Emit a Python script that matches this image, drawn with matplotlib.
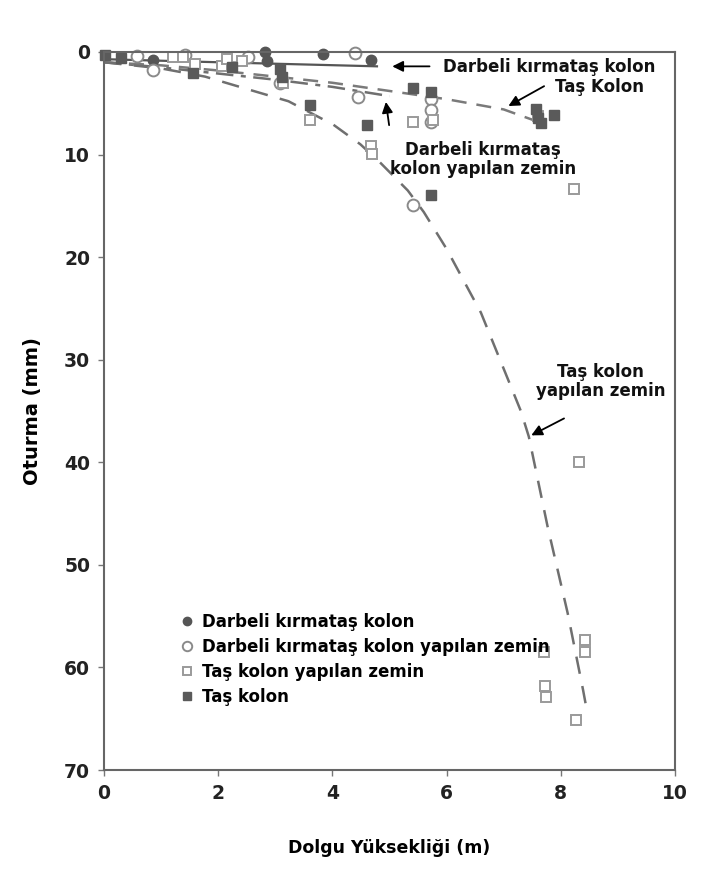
import matplotlib
matplotlib.use("Agg")
import matplotlib.pyplot as plt

plt.rcParams['font.family'] = ['DejaVu Sans']

# Scatter data: fill height (m) vs settlement (mm)
dkk_x = [0.85, 2.82, 2.86, 3.84, 4.67]
dkk_y = [0.75, 0.0, 0.9, 0.15, 0.8]

dkkz_x = [0.58, 0.86, 1.42, 2.53, 3.09, 4.40, 4.44, 5.72, 5.72, 5.72, 5.42]
dkkz_y = [0.4, 1.8, 0.25, 0.45, 3.0, 0.1, 4.4, 4.6, 5.7, 6.8, 14.9]

tkz_x = [1.2, 1.39, 1.6, 2.07, 2.16, 2.42, 3.14, 3.61, 4.67, 4.70, 5.42, 5.77,
         7.60, 8.23, 8.32, 7.70, 7.72, 7.74, 8.26, 8.42, 8.42]
tkz_y = [0.5, 0.45, 1.2, 1.4, 0.7, 0.9, 3.0, 6.6, 9.2, 9.9, 6.8, 6.6,
         6.2, 13.4, 40.0, 58.5, 61.8, 62.9, 65.1, 57.3, 58.5]

tk_x = [0.02, 0.3, 1.55, 2.25, 3.09, 3.12, 3.61, 4.61, 5.42, 5.72, 5.72,
        7.56, 7.60, 7.65, 7.88]
tk_y = [0.25, 0.55, 2.0, 1.5, 1.7, 2.4, 5.2, 7.1, 3.5, 3.9, 13.9,
        5.6, 6.4, 6.9, 6.1]

# Trend curves
dkk_cx = [0.0, 2.0, 4.8]
dkk_cy = [0.7, 1.0, 1.4]

dkkz_cx = [0.0, 1.0, 2.0, 3.0, 4.0, 5.0]
dkkz_cy = [1.0, 1.5, 2.1, 2.7, 3.4, 4.3]

tk_cx = [0.0, 1.0, 2.0, 3.0, 4.0, 5.0, 6.0, 7.0, 7.7]
tk_cy = [1.0, 1.3, 1.8, 2.4, 3.0, 3.8, 4.6, 5.6, 7.0]

tkz_cx = [0.0, 1.0, 1.77, 2.65, 3.23, 4.02, 4.49, 4.84, 5.32, 5.6, 6.0,
          6.6, 6.95, 7.3, 7.44, 7.77, 8.12, 8.39, 8.44]
tkz_cy = [1.0, 1.6, 2.4, 3.85, 4.8, 7.1, 9.0, 10.8, 13.5, 15.6, 19.2,
          25.4, 30.2, 35.0, 37.5, 46.3, 54.7, 62.2, 63.7]

x_ticks = [0, 2, 4, 6, 8, 10]
y_ticks = [0, 10, 20, 30, 40, 50, 60, 70]

fig = plt.figure(figsize=(7.23, 8.85), dpi=100)
ax = fig.add_axes([104 / 723, 1 - 770 / 885, (675 - 104) / 723, (770 - 52) / 885])

line_c = '#6f6f6f'
ax.plot(dkk_cx, dkk_cy, color='#555555', lw=1.6, solid_capstyle='butt')
ax.plot(dkkz_cx, dkkz_cy, color=line_c, lw=1.8, linestyle=(0, (7, 3, 2, 3)))
ax.plot(tk_cx, tk_cy, color='#7a7a7a', lw=1.8, linestyle=(0, (6, 4)))
ax.plot(tkz_cx, tkz_cy, color=line_c, lw=1.8, linestyle=(0, (7, 5)))

ms = 7.5
ax.plot(dkk_x, dkk_y, 'o', ms=ms, color='#555555', mec='#555555', clip_on=False,
        label='Darbeli kırmataş kolon')
ax.plot(dkkz_x, dkkz_y, 'o', ms=ms + 1, mfc='white', mec='#8a8a8a', mew=1.4,
        clip_on=False, label='Darbeli kırmataş kolon yapılan zemin')
ax.plot(tkz_x, tkz_y, 's', ms=ms - 0.5, mfc='white', mec='#9a9a9a', mew=1.4,
        clip_on=False, label='Taş kolon yapılan zemin')
ax.plot(tk_x, tk_y, 's', ms=ms - 0.5, color='#5a5a5a', mec='#5a5a5a', clip_on=False,
        label='Taş kolon')

ax.set_xlim(0, 10)
ax.set_ylim(70, 0)
ax.set_xticks(x_ticks)
ax.set_yticks(y_ticks)
ax.tick_params(direction='out', length=4, width=1, color='#777777',
               labelsize=13.5, pad=6)
for lab in ax.get_xticklabels() + ax.get_yticklabels():
    lab.set_fontweight('bold')
    lab.set_color('#222222')
for sp in ax.spines.values():
    sp.set_color('#666666')
    sp.set_linewidth(1.5)

ax.set_xlabel('Dolgu Yüksekliği (m)', fontsize=12.5, fontweight='bold', labelpad=26)
ax.set_ylabel('Oturma (mm)', fontsize=14, fontweight='bold', labelpad=16)

leg = ax.legend(loc='upper left', bbox_to_anchor=(0.125, 0.228), frameon=False,
                fontsize=12, handlelength=0.6, handletextpad=0.6,
                labelspacing=0.42, borderaxespad=0, markerscale=0.8)
for t in leg.get_texts():
    t.set_fontweight('bold')

arrow = dict(arrowstyle='-|>', color='black', lw=1.3, mutation_scale=16)
txt = dict(fontsize=12, fontweight='bold', color='#111111')

ax.annotate('', xy=(5.0, 1.4), xytext=(5.75, 1.4), arrowprops=arrow)
ax.text(5.93, 1.5, 'Darbeli kırmataş kolon', ha='left', va='center', **txt)

ax.annotate('', xy=(7.04, 5.4), xytext=(7.75, 3.2), arrowprops=arrow)
ax.text(7.9, 3.45, 'Taş Kolon', ha='left', va='center', **txt)

ax.annotate('', xy=(4.93, 4.6), xytext=(5.0, 7.4), arrowprops=arrow)
ax.text(6.63, 10.45, 'Darbeli kırmataş\nkolon yapılan zemin', ha='center',
        va='center', linespacing=1.05, **txt)

ax.annotate('', xy=(7.44, 37.5), xytext=(8.1, 35.6), arrowprops=arrow)
ax.text(8.7, 32.1, 'Taş kolon\nyapılan zemin', ha='center', va='center',
        linespacing=1.05, **txt)

fig.savefig('out.png', dpi=100, facecolor='white')
